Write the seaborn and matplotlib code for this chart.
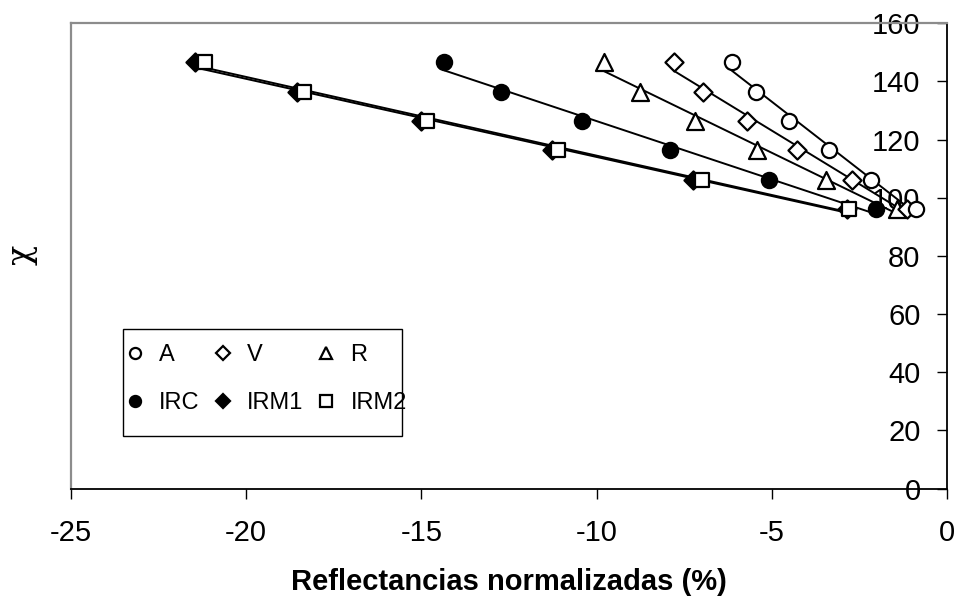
import matplotlib
matplotlib.use("Agg")
import matplotlib.pyplot as plt
from matplotlib.lines import Line2D
from matplotlib.patches import Rectangle
import seaborn as sns
import numpy as np

# ---- data ----
chi = [146.6, 136.4, 126.4, 116.4, 106.2, 96.2]
x_A = [-6.14, -5.45, -4.51, -3.37, -2.17, -0.88]
x_V = [-7.79, -6.96, -5.71, -4.28, -2.71, -1.14]
x_R = [-9.79, -8.76, -7.19, -5.42, -3.45, -1.43]
x_IRC = [-14.35, -12.73, -10.42, -7.91, -5.08, -2.03]
x_IRM1 = [-21.46, -18.55, -15.01, -11.27, -7.25, -2.85]
x_IRM2 = [-21.18, -18.35, -14.84, -11.10, -6.99, -2.80]
series_names = ["A", "V", "R", "IRC", "IRM1", "IRM2"]
x_ticks = [-25, -20, -15, -10, -5, 0]
y_ticks = [0, 20, 40, 60, 80, 100, 120, 140, 160]

sns.set_theme(style="white")
plt.rcParams["font.family"] = ["Liberation Sans", "DejaVu Sans"]
plt.rcParams["axes.unicode_minus"] = False
plt.rcParams["text.color"] = "black"

W, H = 961, 599
fig = plt.figure(figsize=(W / 100, H / 100), dpi=100)
L, R_, T, B = 71, 947, 23.3, 488.5
ax = fig.add_axes([L / W, 1 - B / H, (R_ - L) / W, (B - T) / H])

styles = {
    "A": dict(marker="o", fc="white", s=120),
    "V": dict(marker="D", fc="white", s=85),
    "R": dict(marker="^", fc="white", s=150),
    "IRC": dict(marker="o", fc="black", s=120),
    "IRM1": dict(marker="D", fc="black", s=85),
    "IRM2": dict(marker="s", fc="white", s=110),
}
data = {"A": x_A, "V": x_V, "R": x_R, "IRC": x_IRC, "IRM1": x_IRM1, "IRM2": x_IRM2}

for name in ["IRM1", "IRM2", "IRC", "R", "V", "A"]:
    st = styles[name]
    sns.regplot(x=np.array(data[name]), y=np.array(chi), ax=ax, ci=None,
                marker=st["marker"], color="black",
                scatter_kws=dict(s=st["s"], facecolors=st["fc"], edgecolors="black",
                                 linewidths=1.6, alpha=1, zorder=3),
                line_kws=dict(color="black", lw=1.4, zorder=2))

ax.set_xlim(-25, 0)
ax.set_ylim(0, 160)
ax.set_xticks(x_ticks)
ax.set_yticks(y_ticks)
ax.set_xticklabels([str(v) for v in x_ticks])
ax.set_yticklabels([str(v) for v in y_ticks])

# spines: value axis crosses at x = 0 (right edge)
ax.spines["left"].set_position(("data", 0))
ax.spines["left"].set_color("black")
ax.spines["left"].set_linewidth(1.3)
ax.spines["right"].set_position(("data", -25))
ax.spines["right"].set_color("#8c8c8c")
ax.spines["right"].set_linewidth(1.6)
ax.spines["top"].set_color("#8c8c8c")
ax.spines["top"].set_linewidth(1.6)
ax.spines["bottom"].set_color("black")
ax.spines["bottom"].set_linewidth(1.3)
ax.yaxis.set_ticks_position("left")
ax.xaxis.set_ticks_position("bottom")
ax.tick_params(axis="y", direction="out", length=7, width=1, color="black",
               pad=12, labelsize=21, labelcolor="black")
ax.tick_params(axis="x", direction="out", length=7, width=1, color="black",
               pad=15, labelsize=21, labelcolor="black")
ax.set_xlabel("")
ax.set_ylabel("")

fig.text((L + R_) / 2 / W, 1 - 582 / H, "Reflectancias normalizadas (%)",
         ha="center", va="center", fontsize=21, fontweight="bold", color="black")
fig.text(22 / W, 1 - 255 / H, "χ", ha="center", va="center", fontsize=24,
         rotation=90, family=["DejaVu Serif"], color="black")

# legend (row-wise A V R / IRC IRM1 IRM2 -> column-major order)
def handle(name):
    st = styles[name]
    ms = 8 if st["marker"] != "D" else 7
    if st["marker"] == "^":
        ms = 9
    return Line2D([], [], ls="none", marker=st["marker"], ms=ms,
                  mfc=st["fc"], mec="black", mew=1.6)

order = ["A", "IRC", "V", "IRM1", "R", "IRM2"]
leg = ax.legend([handle(n) for n in order], order, ncol=3,
                loc="upper left", bbox_to_anchor=(128 / W, 1 - 344 / H),
                bbox_transform=fig.transFigure,
                frameon=False, fontsize=17, handlelength=0.6,
                handletextpad=0.72, columnspacing=0.68, labelspacing=1.12,
                borderpad=0, borderaxespad=0, labelcolor="black")
fig.patches.append(Rectangle((123 / W, 1 - 436 / H), (402 - 123) / W, (436 - 329) / H,
                             transform=fig.transFigure, fill=False,
                             edgecolor="black", lw=1.0, zorder=5))

fig.savefig("out.png", dpi=100)
